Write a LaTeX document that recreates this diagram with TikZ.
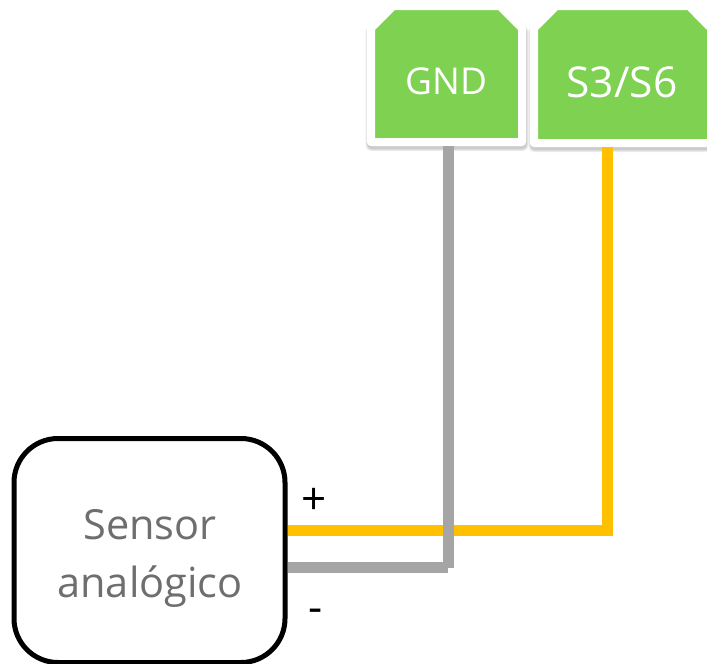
\documentclass[tikz,border=0pt]{standalone}
\usepackage{fontspec}
\setmainfont{Open Sans}
\usetikzlibrary{shadows}
\definecolor{pingreen}{HTML}{7ED151}
\definecolor{wiregray}{HTML}{A5A5A5}
\definecolor{wireyellow}{HTML}{FFC000}
\definecolor{sensortext}{HTML}{6E6E6E}
\tikzset{
  softshadow/.style={draw=black, line width=#1, fill=black, opacity=.07, line join=round},
  pinshadow/.style={preaction={transform canvas={xshift=.5pt,yshift=-3pt}, softshadow=12pt},
                    preaction={transform canvas={xshift=.5pt,yshift=-3pt}, softshadow=10pt},
                    preaction={transform canvas={xshift=.5pt,yshift=-3pt}, softshadow=8pt}},
  pinbox/.style={pinshadow, draw=white, fill=pingreen, line width=8pt, line join=round},
  pintext/.style={text=white, inner sep=0pt, anchor=base},
  sensorbox/.style={draw=black, line width=5pt, rounded corners=44pt, fill=white, minimum width=271pt, minimum height=224pt, inner sep=0pt, outer sep=auto},
  sensortxt/.style={text=sensortext, font=\fontsize{41.5}{44}\selectfont, inner sep=0pt, anchor=base},
  wire/.style={line width=11pt, line join=miter},
  sign/.style={text=black, font=\fontsize{44}{46}\selectfont, inner sep=0pt}
}
\begin{document}
\begin{tikzpicture}[x=1pt,y=-1pt]
\useasboundingbox (0,0) rectangle (707,664);
\fill[white] (0,0) rectangle (707,664);
\path[pinbox] (371,142) -- (371,28.3) -- (393.3,6) -- (499.7,6) -- (522,28.3) -- (522,142) -- cycle;
\path[pinbox] (534,143) -- (534,28.3) -- (556.3,6) -- (689,6) -- (711,28.3) -- (711,143) -- cycle;
\coordinate (gndfoot) at (448.5,146);
\coordinate (s3foot) at (607,147);
\node[pintext, font=\fontsize{37}{39}\selectfont] (gndlabel) at (446.5,94.5) {GND};
\node[pintext, font=\fontsize{42.5}{45}\selectfont] (s3label) at (622,97) {S3/S6};
\node[sensorbox] (sensor) at (149.5,550.5) {};
\node[sensortxt] (sensorlabela) at (150,539) {Sensor};
\node[sensortxt] (sensorlabelb) at (150,597) {analógico};
\coordinate (ybend) at (607,530.5);
\coordinate (gbend) at (448.5,567.5);
\draw[wire, wireyellow] (sensor.east |- ybend) -- (ybend) -- (s3foot);
\draw[wire, wiregray] (gndfoot) -- (gbend);
\draw[wire, wiregray] (sensor.east |- gbend) -- ([xshift=-0.5pt]gbend);
\node[sign] (plus) at (314,501) {+};
\node[sign] (minus) at (316,616) {-};
\end{tikzpicture}
\end{document}
